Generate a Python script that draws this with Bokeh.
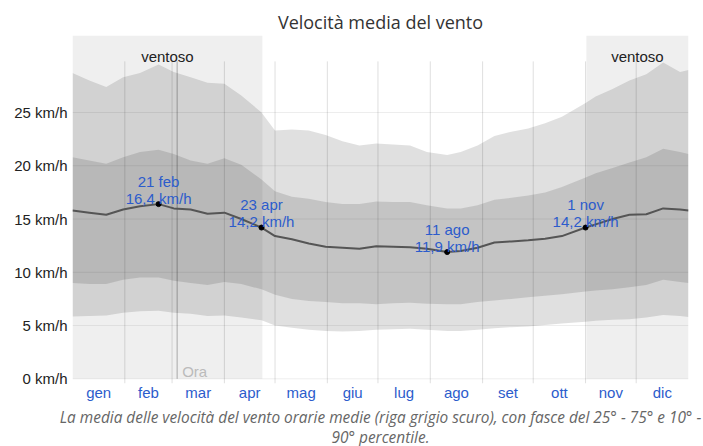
from bokeh.plotting import figure
from bokeh.models import Range1d, FixedTicker, Title
from bokeh.core.properties import value
from bokeh.embed import file_html
from bokeh.resources import INLINE

# ---- data (day of year, 0 = 1 Jan) ----
days = [0, 10, 20, 30, 40, 51, 60, 70, 80, 90, 100, 112, 120, 130, 140, 150, 160, 170, 180,
        190, 200, 210, 222, 230, 240, 250, 260, 270, 280, 290, 304, 310, 320, 330, 340, 350, 360, 365]
mean_kmh = [15.8, 15.6, 15.4, 15.9, 16.2, 16.4, 16.0, 15.9, 15.5, 15.6, 15.0, 14.2, 13.4, 13.1, 12.7,
            12.4, 12.3, 12.2, 12.45, 12.4, 12.35, 12.2, 11.9, 12.0, 12.3, 12.8, 12.9, 13.0, 13.15, 13.4,
            14.2, 14.5, 15.0, 15.4, 15.45, 16.0, 15.9, 15.8]
p10 = [5.85, 5.9, 5.95, 6.2, 6.35, 6.4, 6.2, 6.1, 5.9, 5.95, 5.75, 5.5, 5.0, 4.8, 4.6, 4.5, 4.45, 4.5,
       4.6, 4.65, 4.7, 4.6, 4.5, 4.5, 4.6, 4.75, 4.85, 4.9, 5.05, 5.2, 5.35, 5.45, 5.55, 5.6, 5.75, 6.0,
       5.9, 5.8]
p25 = [9.0, 8.9, 8.9, 9.3, 9.5, 9.5, 9.2, 9.0, 8.8, 9.1, 8.9, 8.4, 7.9, 7.5, 7.3, 7.2, 7.1, 7.1, 7.0,
       7.1, 7.15, 7.05, 7.0, 7.0, 7.2, 7.35, 7.5, 7.65, 7.8, 7.95, 8.2, 8.3, 8.4, 8.6, 8.8, 9.3, 9.1, 9.0]
p75 = [20.8, 20.5, 20.2, 20.8, 21.3, 21.5, 21.1, 20.5, 20.2, 20.7, 20.1, 18.7, 17.6, 17.1, 16.9, 16.6,
       16.4, 16.4, 16.65, 16.6, 16.6, 16.3, 16.0, 16.0, 16.3, 16.8, 17.0, 17.2, 17.5, 18.0, 18.9, 19.3,
       19.8, 20.3, 20.8, 21.6, 21.3, 21.1]
p90 = [28.7, 28.0, 27.4, 28.3, 28.7, 29.5, 28.8, 28.3, 27.8, 27.7, 26.6, 25.0, 23.3, 23.4, 23.3, 22.9,
       22.3, 21.9, 22.1, 22.0, 21.9, 21.3, 21.0, 21.3, 21.9, 22.8, 23.2, 23.5, 24.0, 24.6, 25.9, 26.5,
       27.2, 28.0, 28.6, 29.7, 28.8, 29.0]

month_names = ["gen", "feb", "mar", "apr", "mag", "giu", "lug", "ago", "set", "ott", "nov", "dic"]
month_starts = [0, 31, 59, 90, 120, 151, 181, 212, 243, 273, 304, 334]
year_len = 365

y_ticks = [0, 5, 10, 15, 20, 25]
y_tick_labels = ["0 km/h", "5 km/h", "10 km/h", "15 km/h", "20 km/h", "25 km/h"]

ann_days = [51, 112, 222, 304]
ann_vals = [16.4, 14.2, 11.9, 14.2]
ann_dates = ["21 feb", "23 apr", "11 ago", "1 nov"]
ann_texts = ["16,4 km/h", "14,2 km/h", "11,9 km/h", "14,2 km/h"]

windy_starts = [0, 304.5]
windy_ends = [112.5, 365]
windy_label = "ventoso"
today = 62
today_label = "Ora"

title_text = "Velocità media del vento"
caption_lines = [
    "La media delle velocità del vento orarie medie (riga grigio scuro), con fasce del 25° - 75° e 10° -",
    "90° percentile.",
]

# ---- style constants ----
Y_MIN, Y_MAX = -0.44, 32.23
GRID_TOP = 29.8
BLUE = "#2c5ccc"
FONT = "Liberation Sans"

p = figure(width=703, height=446, x_range=Range1d(0, year_len), y_range=Range1d(Y_MIN, Y_MAX),
           output_backend="svg", toolbar_location=None,
           min_border_left=72, min_border_right=15, min_border_top=35, min_border_bottom=63)
p.outline_line_color = None
p.grid.grid_line_color = None
p.background_fill_color = "white"
p.border_fill_color = "white"

# windy periods
p.quad(left=windy_starts, right=windy_ends, bottom=0, top=Y_MAX, fill_color="#efefef", line_color=None)

# percentile bands
p.varea(x=days, y1=p10, y2=p90, fill_color="black", fill_alpha=0.12)
p.varea(x=days, y1=p25, y2=p75, fill_color="black", fill_alpha=0.12)

# grid lines on top
p.segment(x0=[0] * len(y_ticks), y0=y_ticks, x1=[year_len] * len(y_ticks), y1=y_ticks,
          line_color="black", line_alpha=0.07, line_width=1)
bounds = month_starts[1:]
p.segment(x0=bounds, y0=[Y_MIN] * len(bounds), x1=bounds, y1=[GRID_TOP] * len(bounds),
          line_color="black", line_alpha=0.13, line_width=1)
p.segment(x0=[today], y0=[0], x1=[today], y1=[GRID_TOP], line_color="black", line_alpha=0.3, line_width=1)

# mean line
p.line(days, mean_kmh, line_color="#555555", line_width=2)
p.scatter(ann_days, ann_vals, size=5, color="black")

# annotations
p.text(x=ann_days, y=ann_vals, text=ann_dates, y_offset=-23, text_align="center",
       text_baseline="alphabetic", text_font=value(FONT), text_font_size="15px", text_color=BLUE)
p.text(x=ann_days, y=ann_vals, text=ann_texts, y_offset=-6, text_align="center",
       text_baseline="alphabetic", text_font=value(FONT), text_font_size="15px", text_color=BLUE)

windy_mid = [(s + e) / 2 for s, e in zip(windy_starts, windy_ends)]
p.text(x=windy_mid, y=[30.26] * len(windy_mid), text=[windy_label] * len(windy_mid), text_align="center",
       text_baseline="alphabetic", text_font=value(FONT), text_font_size="15px", text_color="#222222")
p.text(x=[today], y=[0.71], text=[today_label], x_offset=5, text_align="left",
       text_baseline="alphabetic", text_font=value(FONT), text_font_size="15px", text_color="#bbbbbb")

# axes
month_ends = month_starts[1:] + [year_len]
mids = [(a + b) / 2 for a, b in zip(month_starts, month_ends)]
p.xaxis.ticker = FixedTicker(ticks=mids)
p.xaxis.major_label_overrides = {m: n for m, n in zip(mids, month_names)}
p.yaxis.ticker = FixedTicker(ticks=y_ticks)
p.yaxis.major_label_overrides = {t: l for t, l in zip(y_ticks, y_tick_labels)}
for ax in (p.xaxis, p.yaxis):
    ax.axis_line_color = None
    ax.major_tick_line_color = None
    ax.minor_tick_line_color = None
    ax.major_tick_out = 0
    ax.major_tick_in = 0
    ax.major_label_text_font = FONT
    ax.major_label_text_font_size = "15px"
p.xaxis.major_label_text_color = BLUE
p.xaxis.major_label_standoff = 0
p.yaxis.major_label_text_color = "#222222"
p.yaxis.major_label_standoff = 5

# title and caption
p.title.text = title_text
p.title.align = "center"
p.title.text_font = "Open Sans"
p.title.text_font_size = "18px"
p.title.text_font_style = "normal"
p.title.text_color = "#333333"
p.title.standoff = 4
for line, so in zip(caption_lines, [3, -10]):
    p.add_layout(Title(text=line, align="center", text_font="Open Sans", text_font_size="15.4px",
                       text_font_style="italic", text_color="#666666", standoff=so), "below")

open("out.html", "w").write(file_html(p, INLINE))
